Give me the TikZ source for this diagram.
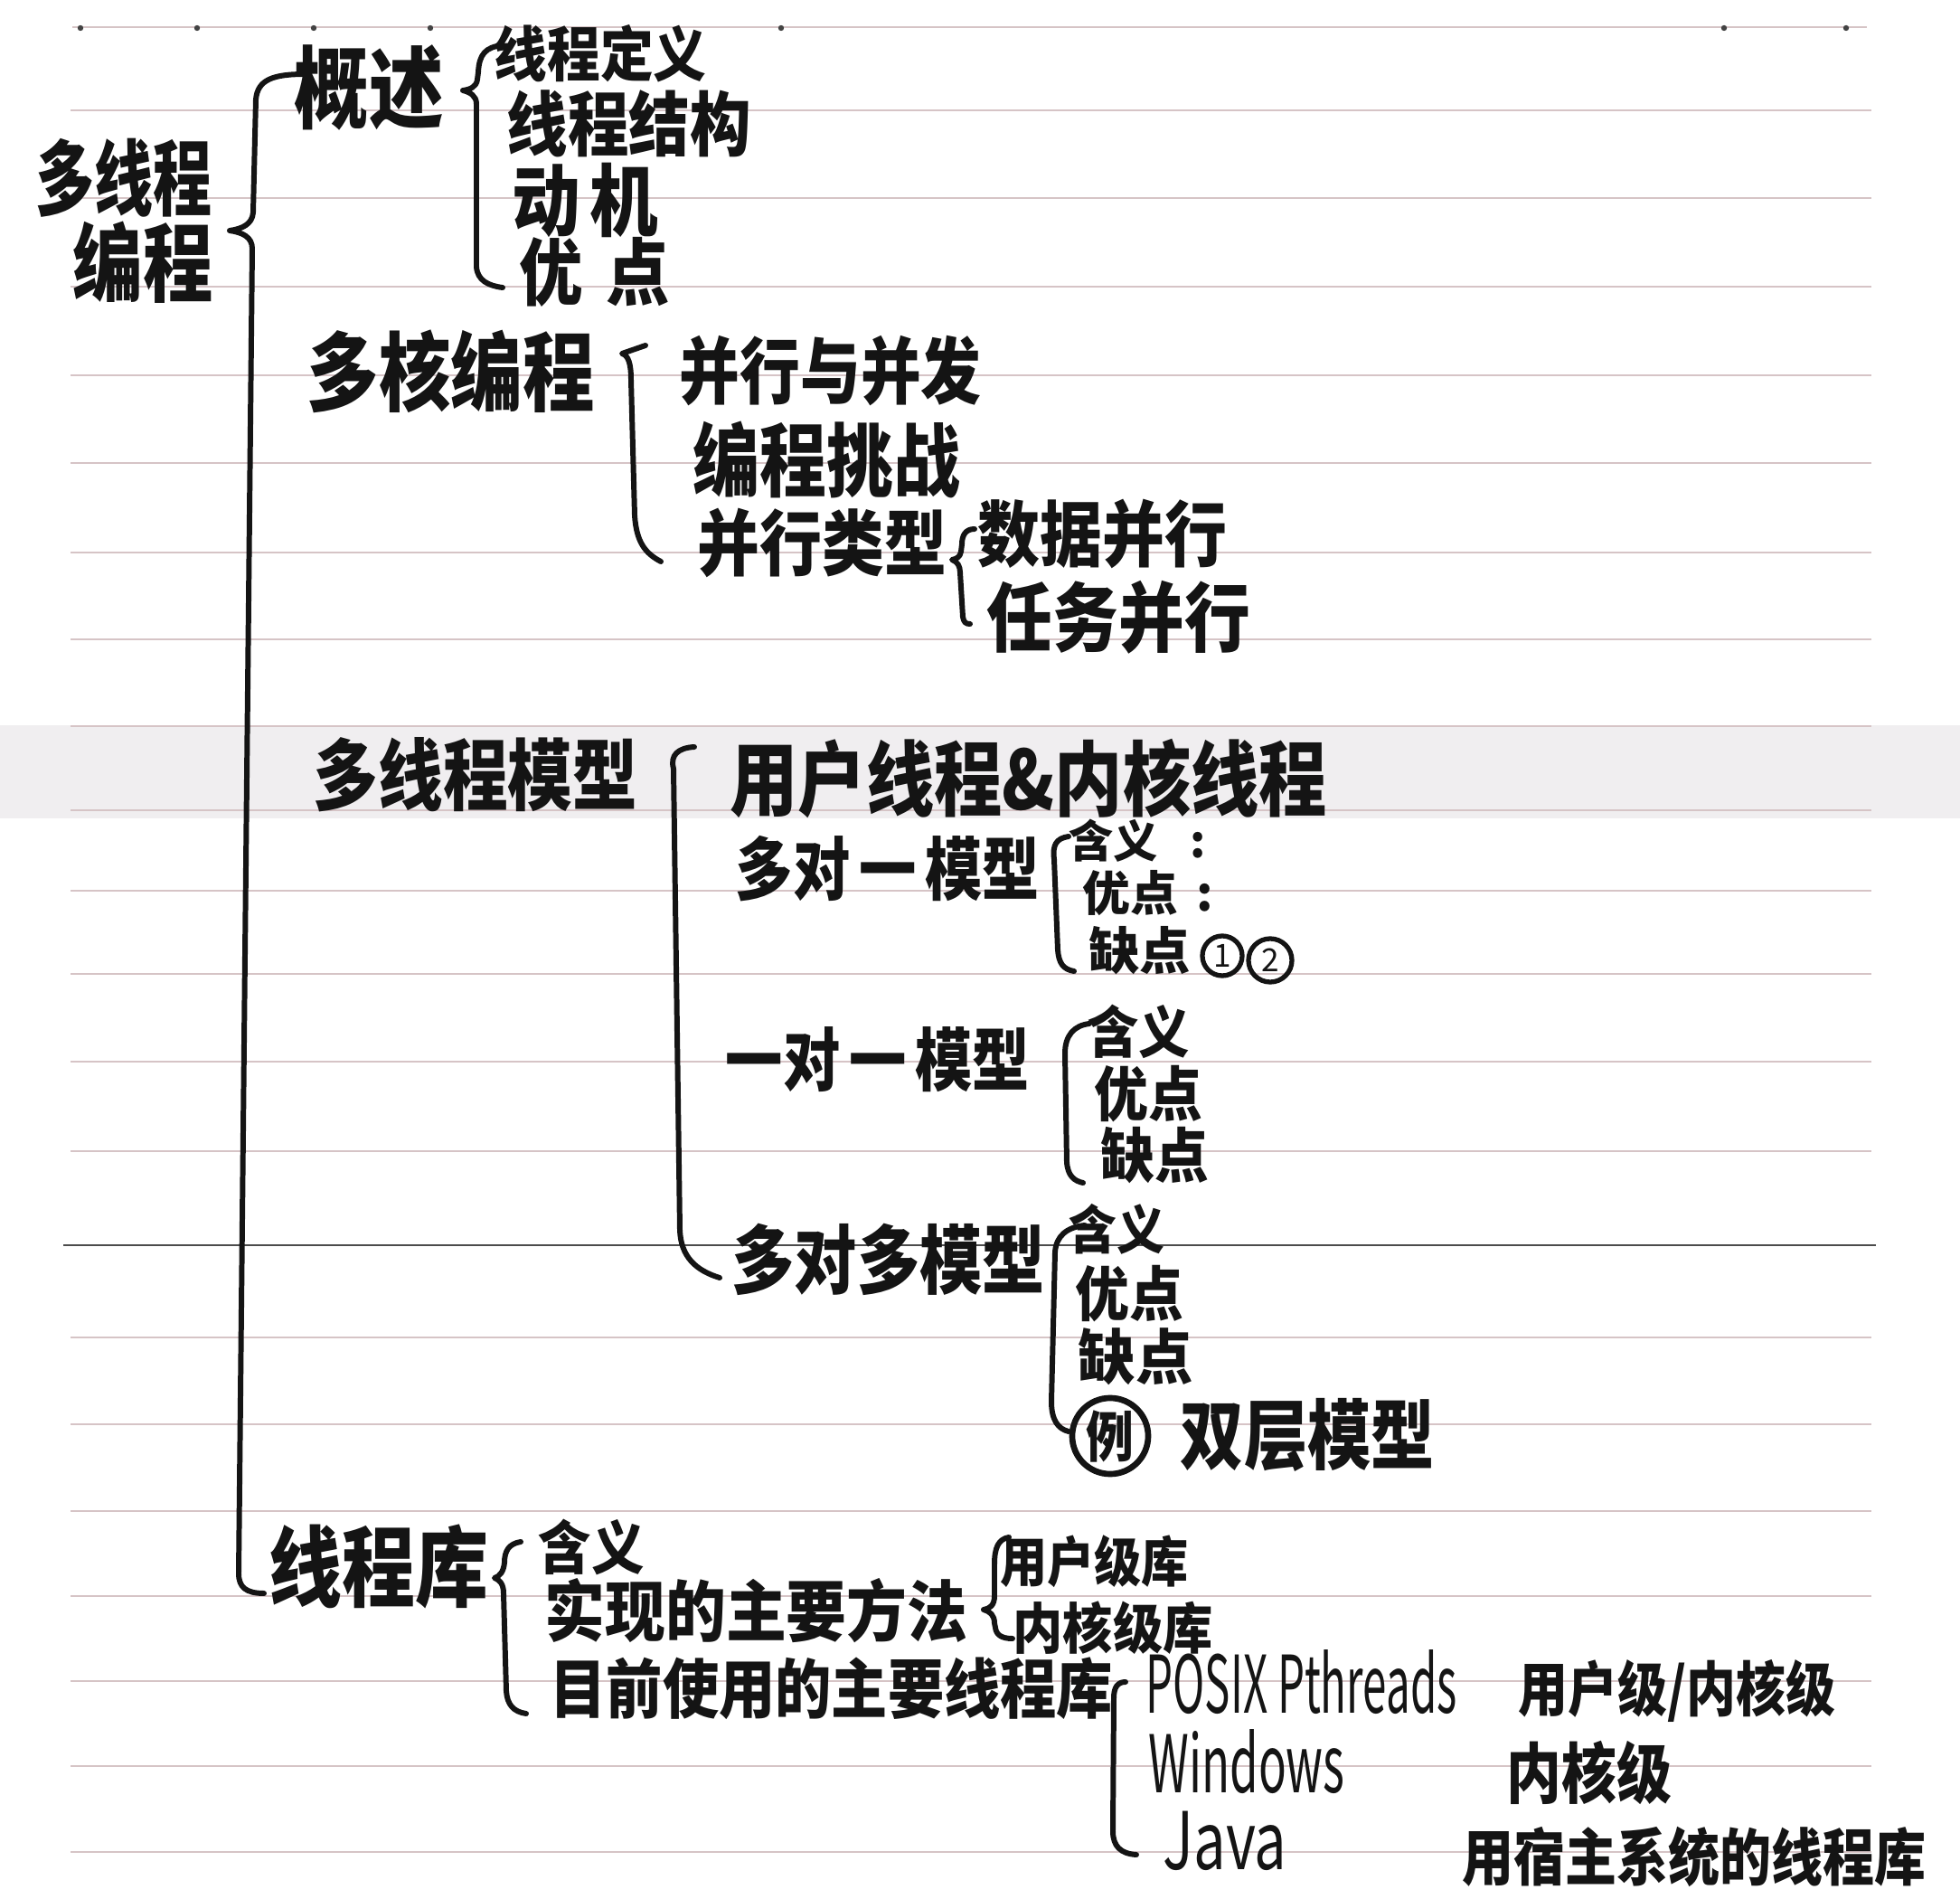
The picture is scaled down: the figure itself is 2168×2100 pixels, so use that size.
\documentclass[tikz,border=0pt]{standalone}
\usepackage{fontspec}
\usepackage{graphicx}
\newfontfamily\cjk{Noto Sans CJK SC}
\newfontfamily\cjkthin{Noto Sans CJK SC}
\newcommand\T[2][1.2]{\scalebox{1}[#1]{#2}}
\definecolor{ink}{RGB}{20,20,20}
\definecolor{rule}{RGB}{214,196,198}
\definecolor{band}{RGB}{240,238,240}
\begin{document}
\begin{tikzpicture}[x=0.01cm,y=-0.01cm,
  hw/.style={font=\cjk\bfseries\fontsize{#1}{#1}\selectfont, text=ink, inner sep=0pt, anchor=west},
  lat/.style={font=\cjkthin\fontsize{#1}{#1}\selectfont, text=ink, inner sep=0pt, anchor=west},
  brace/.style={draw=ink, line width=1.7pt, line cap=round, line join=round},
  ruleline/.style={draw=rule, line width=0.7pt},
  circnum/.style={circle, draw=ink, line width=1.5pt, inner sep=0pt, minimum size=0.44cm, text=ink, font=\cjkthin\fontsize{10}{10}\selectfont}]
\useasboundingbox (0,0) rectangle (2168,2100);
\fill[white] (0,0) rectangle (2168,2100);
\fill[band] (0,802) rectangle (2168,905);
% ruled lines
\draw[ruleline] (80,30) -- (2065,30);
\foreach \xx in {89,218,347,476,864,1907,2042} \fill[ink!80] (\xx,31) circle (3.2);
\foreach \yy in {122,219,317,415,512,611,707,803,896,985,1077,1174,1273,1479,1575,1671,1765,1859,1953,2048}
  \draw[ruleline] (78,\yy) -- (2070,\yy);
\draw[draw=black!70, line width=0.7pt] (70,1377) -- (2075,1377);

% root
\node[hw=18.5] (root1) at (39,197) {\T[1.4]{多线程}};
\node[hw=22] (root2) at (80,290) {\T[1.22]{编程}};

% level 1
\node[hw=23.5] (gs) at (325,97) {\T{概述}};
\node[hw=22.6] (dh) at (339,411) {\T{多核编程}};
\node[hw=20.4] (mt) at (346,857) {\T{多线程模型}};
\node[hw=23] (xk) at (297,1732) {\T{线程库}};

% 概述 children
\node[hw=16.7] (a1) at (546,59) {\T[1.12]{线程定义}};
\node[hw=19.2] (a2) at (560,137) {\T[1.15]{线程结构}};
\node[hw=21.5] (a3) at (566,221) {\T[1.15]{动\hspace{0.1cm}机}};
\node[hw=20] (a4) at (574,301) {\T[1.15]{优\hspace{0.25cm}点}};

% 多核编程 children
\node[hw=19] (b1) at (751,410) {\T{并行与并发}};
\node[hw=21] (b2) at (766,508) {\T{编程挑战}};
\node[hw=19.6] (b3) at (771,600) {\T[1.15]{并行类型}};
\node[hw=19.6] (c1) at (1081,590) {\T[1.15]{数据并行}};
\node[hw=20.7] (c2) at (1091,683) {\T[1.15]{任务并行}};

% 多线程模型 children
\node[hw=21.4] (d1) at (807,861) {\T{用户线程\&内核线程}};
\node[hw=18] (d2) at (813,961) {\T{多对\hspace{0.1cm}一\hspace{0.1cm}模型}};
\node[hw=14] (e1) at (1182,930) {含义\hspace{0.35cm}:};
\node[hw=15] (e2) at (1197,988) {优点\hspace{0.2cm}:};
\node[hw=16] (e3) at (1204,1051) {缺点};
\node[circnum] (n1) at (1352,1057) {1};
\node[circnum, minimum size=0.48cm] (n2) at (1405,1062) {2};

\node[hw=18] (f0) at (802,1172) {\T{一对\hspace{0.1cm}一\hspace{0.1cm}模型}};
\node[hw=16] (f1) at (1203,1141) {\T[1.1]{含义}};
\node[hw=17] (f2) at (1210,1210) {\T[1.1]{优点}};
\node[hw=17] (f3) at (1217,1278) {\T[1.1]{缺点}};

\node[hw=19.7] (g0) at (809,1393) {\T{多对多模型}};
\node[hw=15] (g1) at (1182,1359) {\T[1.1]{含义}};
\node[hw=17] (g2) at (1189,1431) {\T[1.1]{优点}};
\node[hw=18] (g3) at (1192,1500) {\T[1.05]{缺点}};
\node[circle, draw=ink, line width=1.9pt, minimum size=0.84cm, inner sep=0pt, text=ink, font=\cjk\bfseries\fontsize{15}{15}\selectfont] (li) at (1228,1588) {\T[1.15]{例}};
\node[hw=20] (g4) at (1305,1587) {\T{双层模型}};

% 线程库 children
\node[hw=16.6] (h1) at (595,1711) {\T[1.1]{含义}};
\node[hw=19] (h2) at (602,1781) {\T[1.1]{实现的主要方法}};
\node[hw=17.7] (h3) at (608,1867) {\T[1.15]{目前使用的主要线程库}};
\node[hw=14.8] (i1) at (1106,1727) {\T[1.15]{用户级库}};
\node[hw=15.7] (i2) at (1120,1800) {\T[1.1]{内核级库}};
\node[lat=25] (j1) at (1267,1860) {\scalebox{0.54}[1]{POSIX Pthreads}};
\node[lat=25] (j2) at (1270,1948) {\scalebox{0.58}[1]{Windows}};
\node[lat=25] (j3) at (1286,2036) {\scalebox{0.72}[1]{Java}};
\node[hw=15.6] (k1) at (1679,1870) {\T{用户级/内核级}};
\node[hw=17.3] (k2) at (1666,1960) {\T{内核级}};
\node[hw=16.2] (k3) at (1617,2053) {\T{用宿主系统的线程库}};

% braces
\path[brace] (338,82) .. controls (302,82) and (285,88) .. (283,110) -- (280,235)
  .. controls (279,248) and (268,253) .. (254,255) .. controls (268,257) and (279,262) .. (279,275)
  -- (264,1740) .. controls (264,1755) and (272,1762) .. (292,1762);
\path[brace] (556,50) .. controls (537,52) and (530,60) .. (529,80) -- (528,88)
  .. controls (527,96) and (520,99) .. (512,100) .. controls (520,102) and (527,106) .. (527,115)
  -- (527,295) .. controls (528,310) and (540,316) .. (556,318);
\path[brace] (714,382) -- (688,391) .. controls (695,393) and (698,402) .. (698,420)
  -- (702,570) .. controls (704,600) and (714,612) .. (731,621);
\path[brace] (1078,585) .. controls (1068,585) and (1064,592) .. (1064,602) -- (1063,610)
  .. controls (1062,616) and (1058,618) .. (1053,619) .. controls (1059,621) and (1062,626) .. (1062,633)
  -- (1065,682) .. controls (1066,688) and (1068,690) .. (1073,690);
\path[brace] (768,826) .. controls (750,827) and (741,835) .. (745,850)
  -- (752,1360) .. controls (753,1390) and (770,1405) .. (796,1413);
\path[brace] (1182,925) .. controls (1168,927) and (1164,935) .. (1166,950)
  -- (1170,1050) .. controls (1171,1065) and (1176,1072) .. (1188,1074);
\path[brace] (1205,1132) .. controls (1188,1134) and (1178,1145) .. (1178,1165)
  -- (1180,1285) .. controls (1181,1300) and (1188,1306) .. (1198,1308);
\path[brace] (1200,1355) .. controls (1180,1357) and (1168,1367) .. (1167,1385)
  -- (1163,1550) .. controls (1163,1570) and (1170,1580) .. (1182,1583);
\path[brace] (576,1705) .. controls (563,1707) and (558,1715) .. (558,1728)
  .. controls (557,1738) and (553,1743) .. (547,1745) .. controls (553,1747) and (557,1752) .. (557,1762)
  -- (560,1870) .. controls (561,1885) and (568,1893) .. (582,1895);
\path[brace] (1116,1700) .. controls (1104,1702) and (1100,1712) .. (1100,1730) -- (1100,1765)
  .. controls (1100,1775) and (1095,1779) .. (1088,1780) .. controls (1095,1782) and (1100,1786) .. (1100,1795)
  -- (1101,1800) .. controls (1102,1808) and (1108,1812) .. (1120,1812);
\path[brace] (1245,1860) .. controls (1236,1860) and (1232,1866) .. (1232,1878)
  -- (1231,2025) .. controls (1231,2042) and (1240,2050) .. (1257,2051);
\end{tikzpicture}
\end{document}
